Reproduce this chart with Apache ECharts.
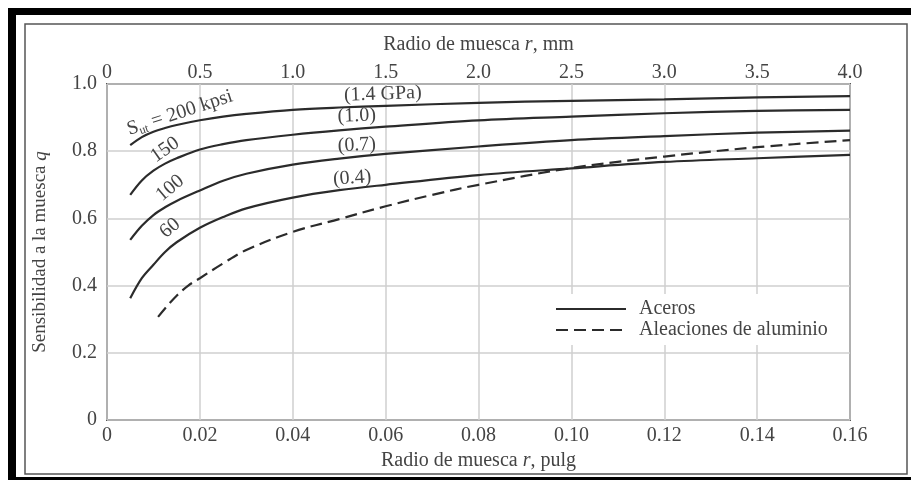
<!DOCTYPE html>
<html>
<head>
<meta charset="utf-8">
<script src="https://cdn.jsdelivr.net/npm/echarts@6/dist/echarts.min.js"></script>
<style>
  html, body { margin: 0; padding: 0; background: #fff; }
  #main { width: 911px; height: 480px; }
</style>
</head>
<body>
<div id="main"></div>
<script>
// radio de muesca r (pulg) y sensibilidad q
const rSteel = [0.005, 0.0075, 0.01, 0.0125, 0.015, 0.02, 0.025, 0.03, 0.04, 0.05, 0.06, 0.08, 0.10, 0.12, 0.14, 0.16];
const q200 = [0.818, 0.842, 0.858, 0.869, 0.878, 0.892, 0.903, 0.911, 0.923, 0.930, 0.935, 0.944, 0.950, 0.954, 0.960, 0.964];
const q150 = [0.670, 0.713, 0.742, 0.763, 0.779, 0.805, 0.821, 0.833, 0.849, 0.862, 0.873, 0.892, 0.903, 0.913, 0.920, 0.923];
const q100 = [0.536, 0.578, 0.610, 0.633, 0.652, 0.683, 0.712, 0.733, 0.760, 0.778, 0.792, 0.814, 0.833, 0.845, 0.855, 0.861];
const q60 = [0.362, 0.422, 0.462, 0.500, 0.529, 0.572, 0.604, 0.630, 0.662, 0.684, 0.700, 0.729, 0.749, 0.768, 0.779, 0.789];

const rAlum = [0.011, 0.0125, 0.015, 0.0175, 0.02, 0.025, 0.03, 0.04, 0.05, 0.06, 0.07, 0.08, 0.10, 0.12, 0.14, 0.16];
const qAlum = [0.307, 0.332, 0.370, 0.400, 0.422, 0.466, 0.506, 0.560, 0.598, 0.636, 0.670, 0.700, 0.750, 0.784, 0.812, 0.833];

const legendNames = ['Aceros', 'Aleaciones de aluminio'];

// rotulos de las curvas: [r, q, texto, giro en grados]
const curveLabels = [
    [0.0157, 0.914, '{t|S}{s|ut}{t| = 200 kpsi}', 18],
    [0.0125, 0.804, '150', 35],
    [0.0136, 0.690, '100', 40],
    [0.0136, 0.571, '60', 40],
    [0.0594, 0.970, '(1.4 GPa)', 2],
    [0.0538, 0.905, '(1.0)', 2],
    [0.0538, 0.818, '(0.7)', 3],
    [0.0528, 0.720, '(0.4)', 4]
];

const font = 'Liberation Serif';
const ink = '#2b2b2b';
const txt = '#444';

function pairs(xs, ys) {
    return xs.map((x, i) => [x, ys[i]]);
}

function steel(data) {
    return {
        name: 'Aceros',
        type: 'line',
        data: data,
        symbol: 'none',
        smooth: 0.35,
        lineStyle: { color: ink, width: 2.2 },
        itemStyle: { color: ink, opacity: 0 },
        z: 3
    };
}

var myChart = echarts.init(document.getElementById('main'));

myChart.setOption({
    backgroundColor: '#fff',
    animation: false,
    textStyle: { fontFamily: font },
    grid: { left: 107, right: 61, top: 84, bottom: 60, show: true, borderColor: '#555', borderWidth: 2, backgroundColor: 'transparent' },
    legend: {
        data: legendNames,
        orient: 'vertical',
        left: 545,
        top: 294,
        padding: [5, 10, 5, 10],
        backgroundColor: '#fff',
        itemWidth: 70,
        itemHeight: 14,
        itemGap: 1,
        itemStyle: { opacity: 0 },
        textStyle: { fontFamily: font, fontSize: 20, color: txt, padding: [0, 0, 0, 8] }
    },
    xAxis: [{
        type: 'value',
        position: 'bottom',
        min: 0,
        max: 0.16,
        interval: 0.02,
        name: 'Radio de muesca {i|r}, pulg',
        nameLocation: 'middle',
        nameGap: 27,
        nameTextStyle: { fontFamily: font, fontSize: 20, color: txt, rich: { i: { fontStyle: 'italic', fontFamily: font, fontSize: 20, color: txt } } },
        axisLine: { show: false },
        axisTick: { show: false },
        axisLabel: {
            margin: 6, fontFamily: font, fontSize: 20, color: txt,
            formatter: v => v === 0 ? '0' : v.toFixed(2)
        },
        splitLine: { lineStyle: { color: '#cfcfcf', width: 1.5 } }
    }, {
        type: 'value',
        position: 'top',
        min: 0,
        max: 4.0,
        interval: 0.5,
        name: 'Radio de muesca {i|r}, mm',
        nameLocation: 'middle',
        nameGap: 29,
        nameTextStyle: { fontFamily: font, fontSize: 20, color: txt, rich: { i: { fontStyle: 'italic', fontFamily: font, fontSize: 20, color: txt } } },
        axisLine: { show: false },
        axisTick: { show: false },
        axisLabel: {
            margin: 1, fontFamily: font, fontSize: 20, color: txt,
            formatter: v => v === 0 ? '0' : v.toFixed(1)
        },
        splitLine: { show: false }
    }],
    yAxis: {
        type: 'value',
        min: 0,
        max: 1.0,
        interval: 0.2,
        name: 'Sensibilidad a la muesca {i|q}',
        nameLocation: 'middle',
        nameGap: 57,
        nameTextStyle: { fontFamily: font, fontSize: 19, color: txt, rich: { i: { fontStyle: 'italic', fontFamily: font, fontSize: 19, color: txt } } },
        axisLine: { show: false },
        axisTick: { show: false },
        axisLabel: {
            margin: 10, fontFamily: font, fontSize: 20, color: txt,
            formatter: v => v === 0 ? '0' : v.toFixed(1)
        },
        splitLine: { lineStyle: { color: '#cfcfcf', width: 1.5 } }
    },
    series: [
        steel(pairs(rSteel, q200)),
        steel(pairs(rSteel, q150)),
        steel(pairs(rSteel, q100)),
        steel(pairs(rSteel, q60)),
        {
            name: 'Aleaciones de aluminio',
            type: 'line',
            data: pairs(rAlum, qAlum),
            symbol: 'none',
            smooth: 0.35,
            lineStyle: { color: ink, width: 2.2, type: [12, 6] },
            itemStyle: { color: ink, opacity: 0 },
            z: 3
        }
    ]
});

// marco negro y rotulos de curvas
const graphics = [
    { type: 'rect', shape: { x: 8, y: 8, width: 903, height: 7 }, style: { fill: '#000' }, silent: true },
    { type: 'rect', shape: { x: 8, y: 8, width: 8, height: 472 }, style: { fill: '#000' }, silent: true },
    { type: 'rect', shape: { x: 8, y: 477, width: 903, height: 3 }, style: { fill: '#000' }, silent: true },
    { type: 'rect', shape: { x: 25, y: 24, width: 882, height: 450 }, style: { fill: 'none', stroke: '#555', lineWidth: 1.5 }, silent: true }
];
curveLabels.forEach(function (c) {
    const p = myChart.convertToPixel({ xAxisIndex: 0, yAxisIndex: 0 }, [c[0], c[1]]);
    graphics.push({
        type: 'text',
        x: p[0],
        y: p[1],
        rotation: c[3] * Math.PI / 180,
        silent: true,
        z: 10,
        style: {
            text: c[2],
            fontFamily: font,
            fontSize: 20,
            fill: txt,
            align: 'center',
            verticalAlign: 'middle',
            rich: {
                t: { fontFamily: font, fontSize: 20, fill: txt },
                s: { fontFamily: font, fontSize: 12, fill: txt, padding: [10, 0, 0, 0] }
            }
        }
    });
});
myChart.setOption({ graphic: graphics });
</script>
</body>
</html>
